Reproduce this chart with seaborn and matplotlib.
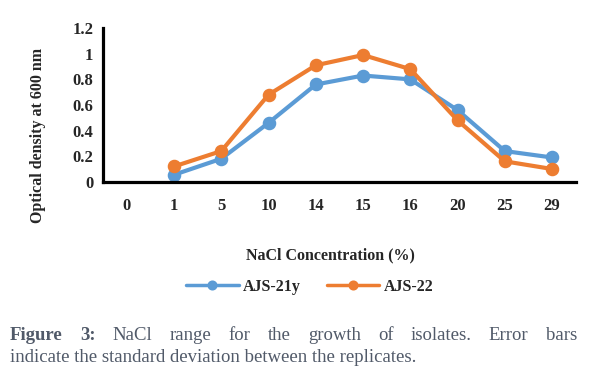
import matplotlib
matplotlib.use("Agg")
import matplotlib.pyplot as plt
import pandas as pd
import seaborn as sns

nacl = ["0", "1", "5", "10", "14", "15", "16", "20", "25", "29"]
ajs_21y = [None, 0.055, 0.18, 0.46, 0.76, 0.83, 0.80, 0.56, 0.24, 0.19]
ajs_22 = [None, 0.12, 0.24, 0.68, 0.91, 0.99, 0.88, 0.48, 0.16, 0.10]
series = ["AJS-21y", "AJS-22"]
colors = ["#5B9BD5", "#ED7D31"]

df = pd.DataFrame({
    "nacl": nacl * 2,
    "od": ajs_21y + ajs_22,
    "isolate": [series[0]] * len(nacl) + [series[1]] * len(nacl),
})
df["od"] = df["od"].astype(float)

sns.set_style("white")
plt.rcParams["font.family"] = ["Liberation Serif", "DejaVu Serif"]

fig = plt.figure(figsize=(5.96, 3.91), dpi=100)
ax = fig.add_axes([0.173, 0.535, 0.793, 0.393])

sns.pointplot(
    data=df, x="nacl", y="od", hue="isolate", order=nacl,
    hue_order=series, palette=colors, errorbar=None,
    markers="o", markersize=7.5, linewidth=3, ax=ax,
)

ax.set_xlim(-0.5, len(nacl) - 0.5)
ax.set_ylim(0, 1.2)
ax.set_yticks([0, 0.2, 0.4, 0.6, 0.8, 1.0, 1.2])
ax.set_yticklabels(["0", "0.2", "0.4", "0.6", "0.8", "1", "1.2"])
for s in ["top", "right"]:
    ax.spines[s].set_visible(False)
for s in ["left", "bottom"]:
    ax.spines[s].set_linewidth(2.3)
    ax.spines[s].set_color("black")
ax.tick_params(axis="both", length=0, labelsize=12)
ax.tick_params(axis="y", pad=7)
ax.tick_params(axis="x", pad=12)
for lbl in ax.get_xticklabels() + ax.get_yticklabels():
    lbl.set_fontweight("bold")

ax.set_xlabel("NaCl Concentration (%)", fontsize=11.5, fontweight="bold")
ax.set_ylabel("Optical density at 600 nm", fontsize=11.5, fontweight="bold")
ax.yaxis.set_label_coords(-0.12, 0.3)
ax.xaxis.set_label_coords(0.48, -0.43)

handles, labels = ax.get_legend_handles_labels()
ax.get_legend().remove()
leg = fig.legend(handles, labels, loc="center", bbox_to_anchor=(0.52, 0.267),
                 ncol=2, frameon=False, handlelength=3.3, columnspacing=1.6,
                 handletextpad=0.3, prop={"size": 11.5, "weight": "bold"})
for h in leg.legend_handles:
    h.set_markersize(5)
    h.set_linewidth(2.5)

# caption, first line justified
cap_color = "#515a69"
cap_size = 13.5
words = [("Figure", "bold"), ("3:", "bold"), ("NaCl", "normal"), ("range", "normal"),
         ("for", "normal"), ("the", "normal"), ("growth", "normal"), ("of", "normal"),
         ("isolates.", "normal"), ("Error", "normal"), ("bars", "normal")]
left_px, right_px = 10, 577
y1 = 1 - 335 / 391
texts = [fig.text(0, y1, w, fontsize=cap_size, fontweight=wt, color=cap_color, va="center")
         for w, wt in words]
fig.canvas.draw()
renderer = fig.canvas.get_renderer()
widths = [t.get_window_extent(renderer).width for t in texts]
gap = (right_px - left_px - sum(widths)) / (len(words) - 1)
x = left_px
for t, w in zip(texts, widths):
    t.set_x(x / 596)
    x += w + gap
fig.text(left_px / 596, 1 - 357 / 391,
         "indicate the standard deviation between the replicates.",
         fontsize=cap_size, color=cap_color, va="center")

fig.savefig("out.png", dpi=100)
